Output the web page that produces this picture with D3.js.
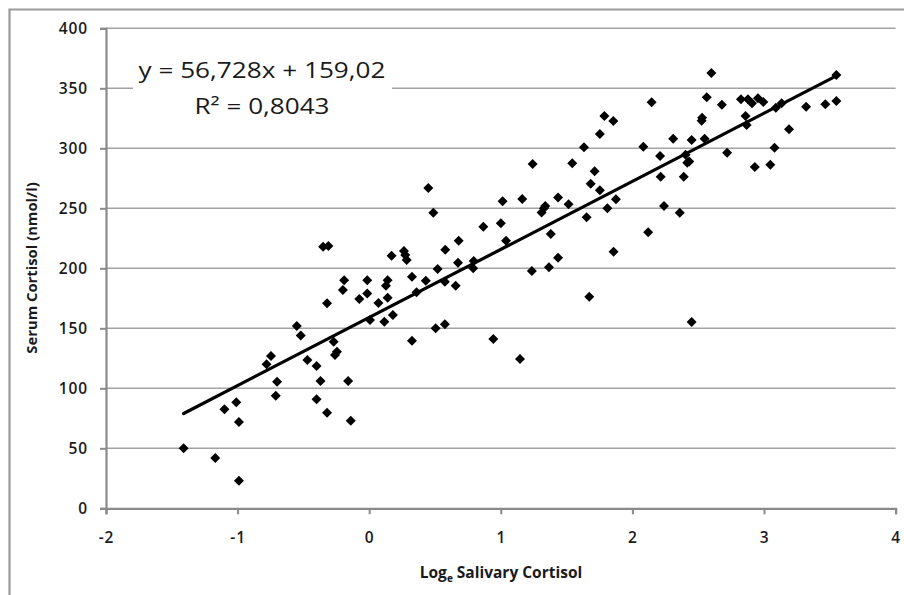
<!DOCTYPE html>
<html>
<head>
<meta charset="utf-8">
<script src="https://cdn.jsdelivr.net/npm/d3@7"></script>
<style>
  html, body { margin: 0; padding: 0; background: #fff; }
  svg { display: block; }
  text { font-family: "Open Sans", "Liberation Sans", sans-serif; fill: #1a1a1a; }
</style>
</head>
<body>
<svg id="chart" width="904" height="595"></svg>
<script>
// ---- data ----
const salivaryLog = [
  -1.41, -1.17, -0.99, -1.10, -1.01, -0.99, -0.71, -0.70, -0.78, -0.746,
  -0.55, -0.52, -0.47, -0.40, -0.37, -0.40, -0.32, -0.16, -0.14, -0.35,
  -0.31, -0.32, -0.27, -0.245, -0.26, -0.19, -0.20, -0.075, -0.015, -0.015,
  0.006, 0.07, 0.115, 0.14, 0.14, 0.127, 0.18, 0.17, 0.264, 0.274,
  0.285, 0.325, 0.325, 0.36, 0.43, 0.52, 0.578, 0.505, 0.575, 0.575,
  0.449, 0.487, 0.657, 0.675, 0.68, 0.794, 0.79, 0.867, 0.943, 1.0,
  1.014, 1.04, 1.146, 1.163, 1.242, 1.236, 1.31, 1.328, 1.338, 1.366,
  1.38, 1.435, 1.435, 1.515, 1.543, 1.632, 1.652, 1.672, 1.683, 1.713,
  1.753, 1.81, 1.875, 1.857, 2.083, 2.12, 1.787, 1.855, 1.753, 2.146,
  2.21, 2.215, 2.24, 2.31, 2.36, 2.39, 2.404, 2.417, 2.432, 2.45,
  2.45, 2.53, 2.526, 2.549, 2.565, 2.6, 2.68, 2.72, 2.825, 2.878,
  2.909, 2.954, 2.995, 2.86, 2.868, 2.93, 3.048, 3.08, 3.09, 3.134,
  3.19, 3.32, 3.466, 3.55, 3.55
];
const serumCortisol = [
  50, 42, 23, 82.5, 88.3, 72, 93.7, 105.5, 120, 127,
  152, 144, 123.6, 118.6, 106, 90.8, 79.7, 106, 73, 218,
  218.5, 170.8, 138.8, 130.5, 127.7, 190, 182, 174.4, 190, 179,
  157, 171, 155.5, 175.5, 190, 185.5, 161, 210.5, 214.4, 211,
  207, 193, 139.7, 180, 189.7, 199.4, 215.5, 150, 153.3, 188.8,
  267, 246.3, 185.5, 204.7, 223, 206, 200, 234.7, 141, 237.5,
  255.8, 223, 124.4, 257.7, 287, 197.8, 246.4, 250, 252, 200.8,
  228.6, 208.8, 259, 253.3, 287.5, 300.8, 242.5, 176.3, 270.5, 280.8,
  265, 250, 257.5, 213.8, 301.3, 230, 327, 322.7, 312, 338.3,
  293.6, 276.3, 252, 308, 246.3, 276.3, 294.7, 288, 289, 155.3,
  307, 325.5, 323, 308, 342.5, 362.8, 336.3, 296.3, 340.8, 340.8,
  337.5, 341.7, 338.6, 327, 319.4, 284.4, 286.3, 300.5, 333.8, 337.5,
  315.8, 334.7, 336.7, 361, 339.4
];
const xTicks = [-2, -1, 0, 1, 2, 3, 4];
const yTicks = [0, 50, 100, 150, 200, 250, 300, 350, 400];
const trendSlope = 56.728;
const trendIntercept = 159.02;
const equationLines = ["y = 56,728x + 159,02", "R\u00B2 = 0,8043"];
const xTitleMain = "Log";
const xTitleSub = "e";
const xTitleRest = " Salivary Cortisol";
const yTitle = "Serum Cortisol (nmol/l)";

// ---- layout ----
const svg = d3.select("#chart");
const plot = { left: 106, right: 895.6, top: 28.3, bottom: 508.3 };
const x = d3.scaleLinear().domain([-2, 4]).range([plot.left, plot.right]);
const y = d3.scaleLinear().domain([0, 400]).range([plot.bottom, plot.top]);
const plainFmt = d => String(d);

// outer chart border (left and top visible)
svg.append("path")
  .attr("d", "M9.5,595 L9.5,9.5 L904,9.5")
  .attr("fill", "none").attr("stroke", "#9a9a9a").attr("stroke-width", 2.2);

// gridlines
svg.append("g").selectAll("line")
  .data(yTicks.filter(t => t > 0))
  .join("line")
  .attr("x1", plot.left).attr("x2", plot.right)
  .attr("y1", d => y(d)).attr("y2", d => y(d))
  .attr("stroke", "#a3a3a3").attr("stroke-width", 1.4);

// y axis
const yAxis = svg.append("g")
  .attr("transform", `translate(${plot.left},0)`)
  .call(d3.axisLeft(y).tickValues(yTicks).tickSize(6).tickPadding(12).tickFormat(plainFmt));
// x axis
const xAxis = svg.append("g")
  .attr("transform", `translate(0,${plot.bottom})`)
  .call(d3.axisBottom(x).tickValues(xTicks).tickSize(6).tickPadding(18).tickFormat(plainFmt));

[yAxis, xAxis].forEach(g => {
  g.select(".domain").attr("stroke", "#8a8a8a").attr("stroke-width", 2.2);
  g.selectAll(".tick line").attr("stroke", "#8a8a8a").attr("stroke-width", 2);
  g.selectAll(".tick text")
    .attr("fill", "#141414")
    .style("font-family", '"Open Sans", sans-serif')
    .style("font-size", "15.5px")
    .style("font-weight", "600")
    .style("letter-spacing", "0.9px");
});
yAxis.selectAll(".tick text").attr("dy", "0.36em");

// equation label box (white background hides gridline)
const eqG = svg.append("g");
eqG.append("rect")
  .attr("x", 133).attr("y", 56).attr("width", 259).attr("height", 66)
  .attr("fill", "#fff");
const eqLengths = [247, 135];
eqG.selectAll("text")
  .data(equationLines)
  .join("text")
  .attr("x", 262)
  .attr("y", (d, i) => 77.5 + i * 36)
  .attr("text-anchor", "middle")
  .attr("textLength", (d, i) => eqLengths[i])
  .attr("lengthAdjust", "spacingAndGlyphs")
  .style("font-size", "21.5px")
  .attr("fill", "#0d0d0d")
  .text(d => d);

// trendline
const xMin = d3.min(salivaryLog), xMax = d3.max(salivaryLog);
svg.append("line")
  .attr("x1", x(xMin)).attr("y1", y(trendSlope * xMin + trendIntercept))
  .attr("x2", x(xMax)).attr("y2", y(trendSlope * xMax + trendIntercept))
  .attr("stroke", "#000").attr("stroke-width", 3.2).attr("stroke-linecap", "round");

// points (diamonds)
const diamond = d3.symbol().type(d3.symbolSquare).size(50);
svg.append("g").selectAll("path")
  .data(d3.zip(salivaryLog, serumCortisol))
  .join("path")
  .attr("d", diamond)
  .attr("transform", d => `translate(${x(d[0])},${y(d[1])}) rotate(45)`)
  .attr("fill", "#000");

// axis titles
const xt = svg.append("text")
  .attr("x", 501).attr("y", 578)
  .attr("text-anchor", "middle")
  .style("font-size", "15.5px").style("font-weight", "700")
  .attr("fill", "#111");
xt.append("tspan").text(xTitleMain);
xt.append("tspan").attr("dy", 4).style("font-size", "10px").text(xTitleSub);
xt.append("tspan").attr("dy", -4).text(xTitleRest);

svg.append("text")
  .attr("transform", "translate(37,268) rotate(-90)")
  .attr("text-anchor", "middle")
  .style("font-size", "14.8px").style("font-weight", "700")
  .attr("fill", "#111")
  .text(yTitle);
</script>
</body>
</html>
